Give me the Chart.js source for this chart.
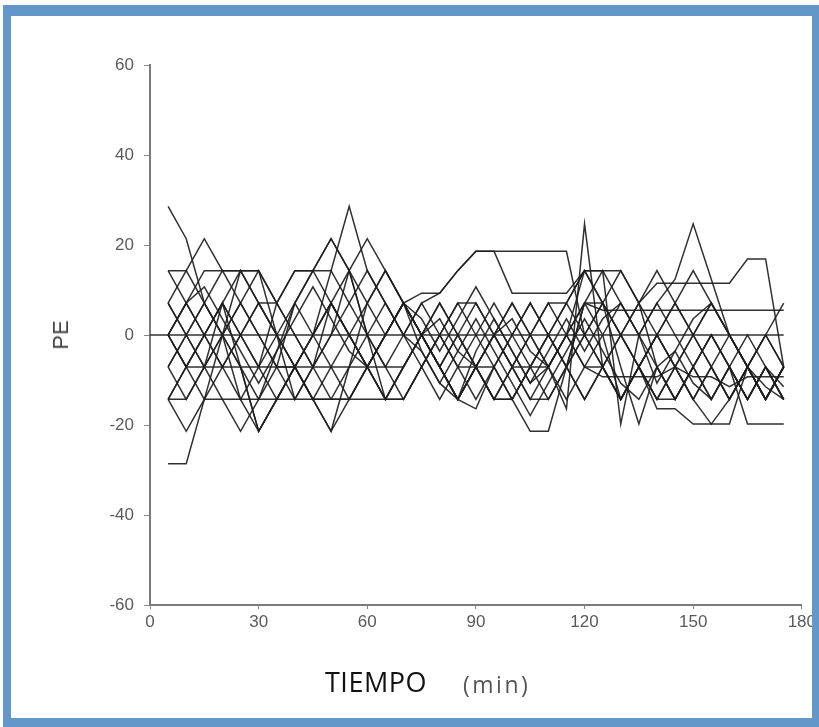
<!DOCTYPE html>
<html>
<head>
<meta charset="utf-8">
<script src="https://cdn.jsdelivr.net/npm/chart.js@4.4.1/dist/chart.umd.min.js"></script>
<style>
  html, body { margin: 0; padding: 0; background: #ffffff; }
  body { width: 819px; height: 727px; position: relative; overflow: hidden; }
  #c { position: absolute; left: 0; top: 0; z-index: 1; }
  #frame { position: absolute; left: 3px; top: 5px; width: 816px; height: 722px; box-sizing: border-box;
           border-style: solid; border-color: #6396c9; border-width: 11px 7px 9px 8px; z-index: 3; pointer-events: none; }
  .t { position: absolute; z-index: 2; white-space: nowrap; }
  #ytitle { left: 61px; top: 335px; font: 22px "Liberation Sans", Arial, sans-serif; color: #454545;
            transform: translate(-50%, -50%) rotate(-90deg); line-height: 22px; }
  #xt1 { left: 325px; top: 668px; font: 27px "Open Sans", sans-serif; line-height: 27px; color: #111; letter-spacing: 0.5px; }
  #xt2 { left: 463px; top: 673px; font: 23px "Open Sans", sans-serif; line-height: 23px; color: #555; letter-spacing: 2.5px; }
</style>
</head>
<body>
<canvas id="c" width="819" height="727"></canvas>
<div id="frame"></div>
<div class="t" id="ytitle">PE</div>
<div class="t" id="xt1">TIEMPO</div>
<div class="t" id="xt2">(min)</div>
<script>
// time points (min)
const times = [5,10,15,20,25,30,35,40,45,50,55,60,65,70,75,80,85,90,95,100,105,110,115,120,125,130,135,140,145,150,155,160,165,170,175];
// zero reference line
const zeroTimes = [0, 175];
const zeroValues = [0, 0];
// x tick labels / y tick labels
const xTicks = [0, 30, 60, 90, 120, 150, 180];
const yTicks = [-60, -40, -20, 0, 20, 40, 60];

// PE series (one per patient)
const pe01 = [28.6, 21.4, 7.1, 0, -7.1, -14.3, -3.6, 7.1, 14.3, 21.4, 14.3, 0, -7.1, -7.1, 0, 3.6, -3.6, -7.1, 0, 3.6, -3.6, -7.1, -14.3, -7.1, 0, 7.1, 0, -10.7, -3.6, 3.6, 7.1, 0, -7.1, -14.3, -7.1];
const pe02 = [14.3, 14.3, 21.4, 14.3, 14.3, 14.3, 0, -14.3, -7.1, 7.1, 14.3, 7.1, 0, 7.1, 0, -7.1, -14.3, -7.1, 0, 7.1, 0, -7.1, 0, 14.3, 14.3, 14.3, 7.1, -7.1, -14.3, -7.1, 0, -7.1, -14.3, -7.1, -14.3];
const pe03 = [-28.6, -28.6, -14.3, 0, 14.3, 7.1, 0, -7.1, -14.3, -21.4, -7.1, 7.1, 14.3, 7.1, -3.6, -10.7, -14.3, -3.6, 3.6, -3.6, -10.7, -7.1, 0, 7.1, 0, -14.3, -7.1, 0, -7.1, -14.3, -7.1, 0, -7.1, -14.3, -7.1];
const pe04 = [-14.3, -21.4, -14.3, -14.3, -14.3, -14.3, -14.3, -14.3, -14.3, -14.3, -14.3, -14.3, -14.3, -14.3, -7.1, 0, 7.1, 0, -7.1, -14.3, -7.1, 0, 7.1, 0, -7.1, -14.3, -7.1, 0, -7.1, -14.3, -7.1, -14.3, -7.1, -14.3, -7.1];
const pe05 = [0, -7.1, -7.1, -7.1, -7.1, -7.1, -7.1, -7.1, -7.1, -7.1, -7.1, -7.1, -7.1, 0, 7.1, 0, -7.1, -7.1, -7.1, -14.3, -7.1, -7.1, 0, -7.1, -9.3, -9.3, -9.3, -9.3, -7.1, -9.3, -9.3, -11.5, -9.3, -9.3, -9.3];
const pe06 = [-14.3, -7.1, 0, 7.1, 0, -7.1, 7.1, 14.3, 14.3, 14.3, 28.6, 14.3, 7.1, 0, -7.1, -14.3, -7.1, 0, 7.1, 0, -7.1, -14.3, -7.1, 0, 7.1, 14.3, 7.1, 0, -7.1, 0, 7.1, 0, -7.1, 0, -7.1];
const pe07 = [0, 7.1, 14.3, 14.3, 14.3, 14.3, 7.1, 0, -7.1, 0, 14.3, 21.4, 14.3, 7.1, 0, 7.1, 0, -7.1, -14.3, -7.1, 0, 7.1, 0, -7.1, -7.1, 0, 7.1, 14.3, 7.1, 0, -7.1, -14.3, -7.1, -14.3, -7.1];
const pe08 = [7.1, 0, -7.1, -14.3, -21.4, -14.3, -7.1, 7.1, 14.3, 21.4, 14.3, 0, -14.3, -7.1, 0, 7.1, 0, -7.1, -14.3, -14.3, -7.1, 0, -7.1, -14.3, -7.1, 0, -7.1, -14.3, -14.3, -7.1, 0, -7.1, -14.3, -7.1, -14.3];
const pe09 = [0, -7.1, -14.3, -7.1, 0, 7.1, 0, -7.1, -14.3, -21.4, -14.3, -7.1, 0, 7.1, 9.3, 9.3, 14.3, 18.6, 18.6, 18.6, 18.6, 18.6, 18.6, 0, -7.1, -14.3, -7.1, 0, 7.1, 14.3, 7.1, 0, -7.1, -14.3, -7.1];
const pe10 = [-7.1, 0, 7.1, 14.3, 7.1, 0, -7.1, -14.3, -7.1, 0, 7.1, 14.3, 7.1, 0, 7.1, 9.3, 14.3, 18.6, 18.6, 9.3, 9.3, 9.3, 9.3, 14.3, 7.1, 0, -7.1, -14.3, -7.1, 0, 7.1, 0, -7.1, 0, 7.1];
const pe11 = [-14.3, -7.1, 0, 7.1, 14.3, 7.1, 0, -7.1, -14.3, -7.1, 0, -7.1, -14.3, -7.1, 0, -7.1, -14.3, -7.1, -14.3, -14.3, -21.4, -21.4, -7.1, 7.1, 14.3, 7.1, 0, -7.1, -14.3, -7.1, -14.3, -7.1, -19.8, -19.8, -19.8];
const pe12 = [7.1, 14.3, 7.1, 0, -14.3, -21.4, -14.3, -7.1, 0, 7.1, 0, -7.1, 0, 7.1, 0, -7.1, -14.3, -7.1, 0, -7.1, -14.3, -7.1, -16.4, 24.7, -7.1, -14.3, -7.1, 0, 7.1, 0, -7.1, -14.3, -7.1, 0, -7.1];
const pe13 = [0, 7.1, 0, -7.1, -14.3, -7.1, 0, 7.1, 0, -7.1, -14.3, -7.1, 0, 7.1, 3.6, -3.6, 3.6, 10.7, 3.6, -3.6, -10.7, -3.6, 3.6, -3.6, 3.6, 7.1, 0, 7.1, 12.4, 24.7, 12.4, 0, -7.1, -14.3, -7.1];
const pe14 = [-7.1, -14.3, -7.1, 0, 7.1, 14.3, 7.1, 0, -7.1, -14.3, -14.3, -7.1, 0, 7.1, 0, -7.1, 0, 7.1, 0, -7.1, -7.1, 0, 7.1, 14.3, 7.1, 0, 7.1, 11.5, 11.5, 11.5, 11.5, 11.5, 16.9, 16.9, -7.1];
const pe15 = [14.3, 7.1, 0, -7.1, 0, 7.1, 7.1, 14.3, 14.3, 7.1, 0, 7.1, 14.3, 7.1, 0, -7.1, -14.3, -7.1, 0, 7.1, 0, -7.1, 0, 7.1, 5.5, 5.5, 5.5, 5.5, 5.5, 5.5, 5.5, 5.5, 5.5, 5.5, 5.5];
const pe16 = [-7.1, 0, 7.1, 0, -7.1, -21.4, -14.3, -7.1, 0, 7.1, 0, -7.1, -14.3, -7.1, 0, -7.1, -14.3, -16.4, -7.1, 0, 7.1, 0, -7.1, -14.3, -7.1, -14.3, -7.1, -16.4, -16.4, -19.8, -19.8, -19.8, -7.1, -14.3, -7.1];
const pe17 = [0, -7.1, 0, 7.1, 0, -7.1, -14.3, -7.1, 0, 7.1, 0, -7.1, 0, 7.1, 0, -7.1, 0, -7.1, -14.3, -7.1, 0, 7.1, 7.1, 14.3, 14.3, -19.8, 0, 7.1, 0, -7.1, -14.3, -7.1, 0, -7.1, -14.3];
const pe18 = [7.1, 0, -7.1, 0, 7.1, 0, -7.1, -7.1, -14.3, -14.3, -7.1, 0, 7.1, 0, -3.6, -10.7, -3.6, 3.6, -3.6, -10.7, -17.9, -10.7, -3.6, 3.6, -3.6, -10.7, -14.3, -7.1, -3.6, -10.7, -14.3, -7.1, -14.3, -7.1, -14.3];
const pe19 = [-14.3, -14.3, -7.1, 7.1, -7.1, -21.4, -14.3, -7.1, 0, 14.3, 7.1, 0, -7.1, -14.3, -7.1, 0, 7.1, 7.1, 0, -7.1, -14.3, -14.3, -7.1, 7.1, 7.1, -7.1, -19.8, -7.1, -14.3, -7.1, 0, -7.1, -14.3, -7.1, -11.5];
const pe20 = [0, 7.1, 10.7, 3.6, -3.6, -10.7, -3.6, 3.6, 10.7, 3.6, -3.6, -7.1, -14.3, -14.3, -7.1, 0, -7.1, -14.3, -7.1, 0, 7.1, 0, -7.1, 0, 7.1, 0, -7.1, -14.3, -7.1, -14.3, -19.8, -14.3, -7.1, -11.5, -14.3];

const seriesList = [pe01, pe02, pe03, pe04, pe05, pe06, pe07, pe08, pe09, pe10,
                    pe11, pe12, pe13, pe14, pe15, pe16, pe17, pe18, pe19, pe20];

const lineStyle = { borderColor: 'rgba(30,30,30,0.92)', borderWidth: 1.5, pointRadius: 0, tension: 0, fill: false };

const datasets = seriesList.map((vals, k) => Object.assign({
  label: 'P' + (k + 1),
  data: vals.map((v, i) => ({ x: times[i], y: v }))
}, lineStyle));
datasets.push(Object.assign({
  label: 'cero',
  data: zeroValues.map((v, i) => ({ x: zeroTimes[i], y: v }))
}, lineStyle));

const tickFont = { family: '"Liberation Sans", Arial, sans-serif', size: 17 };

new Chart(document.getElementById('c'), {
  type: 'line',
  data: { datasets },
  options: {
    responsive: false,
    animation: false,
    events: [],
    layout: { padding: { left: 50, top: 65, right: 16, bottom: 82 } },
    plugins: { legend: { display: false }, tooltip: { enabled: false }, title: { display: false } },
    scales: {
      x: {
        type: 'linear', min: 0, max: 180,
        afterBuildTicks: s => { s.ticks = xTicks.map(v => ({ value: v })); },
        afterFit: s => { s.height = 40; },
        ticks: { color: '#5a5a5a', font: tickFont, padding: 3, maxRotation: 0, autoSkip: false },
        grid: { display: true, drawOnChartArea: false, drawTicks: true, tickLength: 4, color: '#888' },
        border: { display: true, color: '#7a7a7a', width: 2 }
      },
      y: {
        type: 'linear', min: -60, max: 60,
        afterBuildTicks: s => { s.ticks = yTicks.map(v => ({ value: v })); },
        afterFit: s => { s.width = 100; },
        ticks: { color: '#5a5a5a', font: tickFont, padding: 10, autoSkip: false },
        grid: { display: true, drawOnChartArea: false, drawTicks: true, tickLength: 6, color: '#888' },
        border: { display: true, color: '#7a7a7a', width: 2 }
      }
    }
  }
});
</script>
</body>
</html>
